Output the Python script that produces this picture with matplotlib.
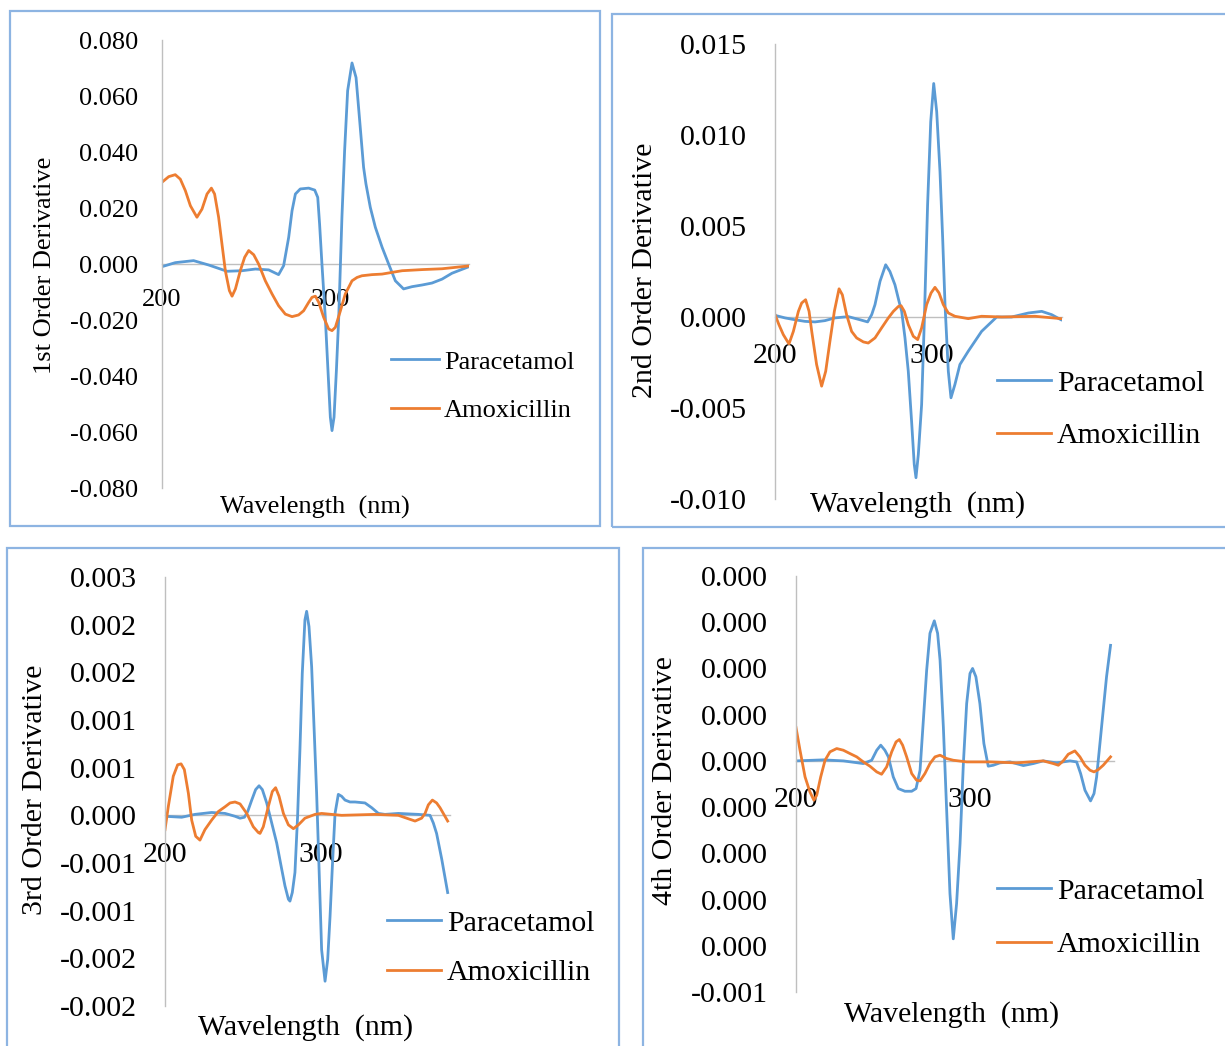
import matplotlib
matplotlib.use("Agg")
import matplotlib.pyplot as plt
from matplotlib.patches import Rectangle

plt.rcParams['font.family'] = ['Liberation Serif', 'DejaVu Serif']

W, H = 1225, 1046

# ---- data ----
# 1st order derivative
wl_d1_para = [200.0, 207.9, 218.8, 227.8, 238.7, 247.6, 255.6, 263.5, 269.4, 272.4, 275.4, 277.4, 279.4,
              282.3, 287.3, 290.9, 292.7, 293.8, 295.2, 297.2, 298.8, 300.2, 301.2, 302.4, 303.8, 305.2,
              307.1, 308.7, 310.5, 313.1, 315.5, 317.5, 320.0, 321.4, 324.0, 327.0, 331.0, 334.9, 338.9,
              343.8, 348.8, 354.8, 360.7, 366.7, 372.6, 382.5]
d1_para = [-0.00095, 0.00048, 0.0012, -0.00036, -0.0026, -0.0024, -0.0018, -0.0021, -0.0038, -0.0006,
           0.0095, 0.019, 0.025, 0.0268, 0.0271, 0.0264, 0.0238, 0.0143, 0.0, -0.019, -0.0381, -0.0547,
           -0.0595, -0.0547, -0.0381, -0.019, 0.0167, 0.0405, 0.0619, 0.0718, 0.0666, 0.0524, 0.0345,
           0.0286, 0.0202, 0.0131, 0.006, 0.0, -0.006, -0.0089, -0.0081, -0.0075, -0.0068, -0.0054,
           -0.0033, -0.001]
wl_d1_amox = [200.0, 204.0, 207.9, 210.9, 213.9, 216.9, 220.8, 223.8, 226.8, 229.4, 231.3, 233.7, 235.7,
              237.7, 240.1, 241.7, 243.7, 246.6, 249.2, 251.6, 254.6, 257.5, 261.5, 265.5, 269.4, 273.4,
              277.4, 281.3, 284.3, 287.3, 289.3, 291.3, 293.3, 296.2, 299.2, 301.2, 303.2, 306.2, 309.1,
              313.1, 316.1, 319.0, 325.0, 331.0, 336.9, 342.9, 354.8, 366.7, 382.5]
d1_amox = [0.0292, 0.0312, 0.0319, 0.0303, 0.0262, 0.0208, 0.0167, 0.0196, 0.025, 0.0271, 0.025, 0.0167,
           0.0071, -0.0024, -0.0095, -0.0115, -0.0089, -0.0024, 0.0024, 0.0048, 0.0033, 0.0, -0.006,
           -0.0107, -0.0149, -0.0179, -0.0188, -0.0182, -0.0167, -0.0137, -0.0119, -0.0115, -0.0137,
           -0.019, -0.0232, -0.0238, -0.0226, -0.0167, -0.0107, -0.006, -0.0048, -0.0042, -0.0038,
           -0.0036, -0.003, -0.0024, -0.002, -0.0017, -0.0007]

# 2nd order derivative
wl_d2_para = [200.0, 206.4, 212.7, 219.1, 225.5, 231.8, 238.2, 246.7, 254.1, 259.0, 261.6, 263.7, 266.9,
              270.5, 273.2, 276.4, 279.0, 280.7, 282.8, 284.9, 287.0, 288.7, 289.8, 291.3, 293.4, 295.1,
              297.2, 299.2, 301.1, 303.0, 305.1, 306.8, 308.3, 310.4, 312.1, 314.6, 317.8, 323.1, 331.6,
              341.2, 350.7, 361.4, 369.9, 376.2, 382.2]
d2_para = [0.00009, -0.00005, -0.00015, -0.00024, -0.00027, -0.0002, -0.00005, 0.00002, -0.00015,
           -0.00027, 0.00013, 0.00068, 0.00196, 0.00287, 0.0025, 0.00177, 0.00086, 0.00031, -0.00115,
           -0.00298, -0.00572, -0.0081, -0.00883, -0.00755, -0.00481, -0.00024, 0.00616, 0.01073,
           0.01283, 0.01128, 0.00799, 0.00433, 0.00068, -0.00298, -0.00444, -0.00371, -0.00261, -0.00188,
           -0.00079, 0.0, 0.0, 0.00022, 0.00031, 0.00013, -0.00015]
wl_d2_amox = [200.0, 202.5, 205.3, 208.9, 211.7, 214.9, 217.0, 219.5, 221.7, 223.4, 226.5, 229.7, 232.3,
              235.0, 237.8, 240.8, 242.9, 245.6, 248.8, 252.0, 256.3, 259.4, 263.7, 267.9, 272.2, 275.4,
              278.6, 280.3, 282.4, 284.9, 288.1, 290.9, 293.4, 296.6, 299.4, 301.9, 304.5, 307.2, 310.4,
              314.6, 323.1, 331.6, 344.4, 365.6, 382.2]
d2_amox = [0.00013, -0.00042, -0.00097, -0.00148, -0.00079, 0.00031, 0.00077, 0.00095, 0.00031, -0.00079,
           -0.00261, -0.0038, -0.00298, -0.00133, 0.00031, 0.00155, 0.00122, 0.00013, -0.00079, -0.00115,
           -0.00137, -0.00143, -0.00115, -0.0006, -0.00005, 0.00031, 0.00058, 0.00062, 0.00031, -0.00042,
           -0.00106, -0.00124, -0.0006, 0.00068, 0.00132, 0.00163, 0.00132, 0.00068, 0.00022, 0.00004,
           -0.00009, 0.00004, 0.0, 0.00004, -0.00009]

# 3rd order derivative
wl_d3_para = [200.0, 210.7, 219.2, 229.9, 238.5, 244.9, 248.1, 250.9, 253.0, 255.6, 258.1, 260.3, 262.4,
              265.2, 268.4, 271.6, 274.4, 276.9, 279.1, 280.1, 281.6, 283.3, 285.0, 286.5, 288.0, 289.7,
              290.8, 292.3, 294.0, 295.7, 297.2, 298.7, 300.4, 302.6, 304.3, 305.8, 307.3, 309.0, 311.1,
              313.2, 315.4, 318.6, 321.8, 328.2, 332.5, 336.8, 341.0, 349.6, 362.4, 369.9, 372.0, 374.1,
              377.4, 381.2]
d3_para = [-0.00001, -0.00002, 0.00001, 0.00003, 0.00002, -0.00001, -0.00003, -0.00002, 0.00004, 0.00016,
           0.00027, 0.00031, 0.00027, 0.00013, -0.00008, -0.00029, -0.00053, -0.00074, -0.00088, -0.0009,
           -0.00081, -0.0006, -0.00001, 0.00069, 0.00149, 0.00205, 0.00214, 0.00198, 0.00156, 0.00086,
           0.00023, -0.00053, -0.00141, -0.00174, -0.00151, -0.00106, -0.00053, 0.00002, 0.00022, 0.0002,
           0.00016, 0.00014, 0.00014, 0.00013, 0.00008, 0.00002, 0.00001, 0.00002, 0.00001, 0.0, -0.00008,
           -0.00019, -0.00046, -0.00081]
wl_d3_amox = [200.0, 202.1, 205.3, 208.1, 210.3, 212.4, 215.0, 217.1, 219.7, 222.4, 225.6, 229.9, 234.2,
              238.5, 241.7, 244.9, 248.1, 252.4, 256.6, 259.8, 260.9, 263.0, 266.2, 268.8, 270.9, 273.1,
              275.9, 279.1, 282.3, 285.5, 289.7, 296.2, 300.4, 313.2, 334.6, 349.6, 354.9, 360.3, 364.5,
              366.7, 368.8, 371.4, 374.1, 376.3, 381.2]
d3_amox = [-0.00015, 0.00009, 0.00041, 0.00053, 0.00054, 0.00048, 0.00023, -0.00005, -0.00022, -0.00026,
           -0.00015, -0.00005, 0.00004, 0.00009, 0.00013, 0.00014, 0.00012, 0.00002, -0.00012, -0.00018,
           -0.00019, -0.00012, 0.00009, 0.00025, 0.00029, 0.0002, 0.00002, -0.0001, -0.00014, -0.0001,
           -0.00003, 0.00001, 0.00002, 0.0, 0.00001, 0.0, -0.00003, -0.00006, -0.00003, 0.00002, 0.00011,
           0.00016, 0.00013, 0.00008, -0.00006]

# 4th order derivative
wl_d4_para = [200.0, 215.7, 227.2, 238.7, 243.5, 246.4, 248.7, 251.1, 253.1, 255.9, 258.8, 262.6, 266.5,
              269.0, 271.3, 273.2, 275.1, 277.0, 279.5, 281.4, 282.8, 284.7, 286.6, 288.5, 290.4, 292.3,
              294.3, 296.2, 298.1, 300.0, 301.5, 303.4, 305.7, 308.0, 310.5, 313.4, 317.2, 323.0, 330.7,
              336.4, 342.1, 349.8, 357.5, 361.3, 363.6, 366.1, 369.3, 371.3, 372.8, 374.7, 376.6, 378.5,
              380.8]
d4_para = [0.0, 0.0000022, 0.0, -0.0000058, 0.0000014, 0.000023, 0.000034, 0.000023, 0.0000087,
           -0.0000346, -0.0000599, -0.0000657, -0.0000657, -0.0000599, -0.0000202, 0.000088, 0.000196,
           0.000276, 0.000303, 0.000276, 0.000218, 0.0000736, -0.000107, -0.000287, -0.000385, -0.000309,
           -0.000179, -0.0000058, 0.000124, 0.000189, 0.0002, 0.000182, 0.000124, 0.0000375, -0.0000115,
           -0.0000094, -0.0000043, -0.0000022, -0.0000101, -0.0000058, 0.0, -0.0000043, 0.0, -0.0000022,
           -0.0000274, -0.0000635, -0.0000866, -0.0000707, -0.0000346, 0.0000375, 0.00011, 0.000182,
           0.00025]
wl_d4_amox = [200.0, 202.3, 205.2, 208.0, 210.3, 211.9, 214.2, 216.7, 219.5, 223.4, 227.2, 231.0, 234.9,
              238.7, 242.5, 246.4, 249.2, 252.1, 255.0, 257.5, 259.4, 261.3, 263.6, 266.5, 269.3, 271.3,
              274.1, 277.0, 279.9, 282.8, 286.6, 290.4, 298.1, 311.5, 326.8, 342.1, 347.9, 350.8, 353.6,
              356.5, 360.3, 363.2, 366.1, 369.0, 371.3, 373.8, 376.6, 380.8]
d4_amox = [0.0000722, 0.0000231, -0.0000346, -0.0000671, -0.0000851, -0.0000743, -0.0000346, 0.0000014,
           0.0000195, 0.0000267, 0.0000231, 0.0000159, 0.0000087, -0.0000022, -0.0000115, -0.0000238,
           -0.0000289, -0.000013, 0.0000195, 0.0000411, 0.0000462, 0.0000339, 0.0000087, -0.0000274,
           -0.0000418, -0.0000433, -0.0000274, -0.0000058, 0.0000087, 0.0000123, 0.0000051, 0.0000014,
           -0.0000022, -0.0000022, -0.0000043, 0.0, -0.0000058, -0.0000094, 0.0, 0.0000144, 0.0000216,
           0.0000087, -0.0000094, -0.0000202, -0.0000238, -0.0000188, -0.0000094, 0.0000087]

# axis ticks (labels as printed in the picture)
x_ticks = [200, 300]
y1_ticks = [-0.08, -0.06, -0.04, -0.02, 0.0, 0.02, 0.04, 0.06, 0.08]
y1_labels = ['-0.080', '-0.060', '-0.040', '-0.020', '0.000', '0.020', '0.040', '0.060', '0.080']
y2_ticks = [-0.010, -0.005, 0.0, 0.005, 0.010, 0.015]
y2_labels = ['-0.010', '-0.005', '0.000', '0.005', '0.010', '0.015']
y3_ticks = [-0.002, -0.0015, -0.001, -0.0005, 0.0, 0.0005, 0.001, 0.0015, 0.002, 0.0025]
y3_labels = ['-0.002', '-0.002', '-0.001', '-0.001', '0.000', '0.001', '0.001', '0.002', '0.002', '0.003']
y4_ticks = [-0.0005, -0.0004, -0.0003, -0.0002, -0.0001, 0.0, 0.0001, 0.0002, 0.0003, 0.0004]
y4_labels = ['-0.001', '0.000', '0.000', '0.000', '0.000', '0.000', '0.000', '0.000', '0.000', '0.000']

BLUE = '#5B9BD5'
ORANGE = '#ED7D31'
GRID = '#BFBFBF'
BORDER = '#8DB4E2'

fig = plt.figure(figsize=(W / 100, H / 100), dpi=100)


def fx(px):
    return px / W


def fy(py):
    return 1 - py / H


# panel frames (pixel boxes)
frames = [(10, 11, 600, 526), (612, 14, 1240, 527), (7, 548, 619, 1060), (643, 548, 1240, 1060)]
for x0, y0, x1, y1 in frames:
    fig.patches.append(Rectangle((fx(x0), fy(y1)), fx(x1 - x0), (y1 - y0) / H, transform=fig.transFigure,
                                 fill=False, edgecolor=BORDER, linewidth=1.6))

panels = [
    dict(box=(162, 40, 468.6, 488), ylim=(-0.08, 0.08), yt=y1_ticks, yl=y1_labels,
         para=(wl_d1_para, d1_para), amox=(wl_d1_amox, d1_amox), ylabel='1st Order Derivative',
         fs=19, ylab=(45, 265), xlab=(315, 507), leg=(391, 386), ls=0.93, ypad=17, xpad=18),
    dict(box=(775, 44, 1061.5, 499), ylim=(-0.010, 0.015), yt=y2_ticks, yl=y2_labels,
         para=(wl_d2_para, d2_para), amox=(wl_d2_amox, d2_amox), ylabel='2nd Order Derivative',
         fs=21.5, ylab=(645, 270), xlab=(918, 505), leg=(997, 409.5), ls=0.85, ypad=20, xpad=18.6),
    dict(box=(165, 577, 449.7, 1006), ylim=(-0.002, 0.0025), yt=y3_ticks, yl=y3_labels,
         para=(wl_d3_para, d3_para), amox=(wl_d3_amox, d3_amox), ylabel='3rd Order Derivative',
         fs=21.5, ylab=(35, 790), xlab=(306, 1028), leg=(387, 948), ls=0.75, ypad=20, xpad=19.3),
    dict(box=(796, 576, 1113.5, 992), ylim=(-0.0005, 0.0004), yt=y4_ticks, yl=y4_labels,
         para=(wl_d4_para, d4_para), amox=(wl_d4_amox, d4_amox), ylabel='4th Order Derivative',
         fs=21.5, ylab=(665, 781), xlab=(952, 1015), leg=(997, 918), ls=0.88, ypad=20, xpad=18.6),
]

for p in panels:
    x0, y0, x1, y1 = p['box']
    ax = fig.add_axes([fx(x0), fy(y1), fx(x1 - x0), (y1 - y0) / H])
    ax.plot(*p['para'], color=BLUE, lw=2.0, label='Paracetamol', solid_joinstyle='round')
    ax.plot(*p['amox'], color=ORANGE, lw=2.0, label='Amoxicillin', solid_joinstyle='round')
    ax.set_xlim(200, 382.5)
    ax.set_ylim(*p['ylim'])
    ax.set_facecolor('none')
    for s in ['top', 'right']:
        ax.spines[s].set_visible(False)
    ax.spines['left'].set_color(GRID)
    ax.spines['left'].set_linewidth(1.0)
    ax.spines['bottom'].set_position(('data', 0))
    ax.spines['bottom'].set_color(GRID)
    ax.spines['bottom'].set_linewidth(1.0)
    ax.spines['bottom'].set_zorder(0)
    ax.set_xticks(x_ticks)
    ax.set_xticklabels([str(t) for t in x_ticks])
    ax.set_yticks(p['yt'])
    ax.set_yticklabels(p['yl'])
    ax.tick_params(axis='y', length=0, pad=p['ypad'], labelsize=p['fs'])
    ax.tick_params(axis='x', length=0, pad=p['xpad'], labelsize=p['fs'])
    ax.set_ylabel(p['ylabel'], fontsize=p['fs'])
    ax.yaxis.set_label_coords(fx(p['ylab'][0]), fy(p['ylab'][1]), transform=fig.transFigure)
    ax.yaxis.label.set_va('center')
    ax.set_xlabel('Wavelength  (nm)', fontsize=p['fs'])
    ax.xaxis.set_label_coords(fx(p['xlab'][0]), fy(p['xlab'][1]), transform=fig.transFigure)
    ax.xaxis.label.set_va('center')
    ax.legend(loc='center left', bbox_to_anchor=(fx(p['leg'][0]), fy(p['leg'][1])),
              bbox_transform=fig.transFigure, frameon=False, fontsize=p['fs'],
              handlelength=1.8, handletextpad=0.2, labelspacing=p['ls'], borderpad=0, borderaxespad=0)

fig.savefig('out.png', dpi=100)
